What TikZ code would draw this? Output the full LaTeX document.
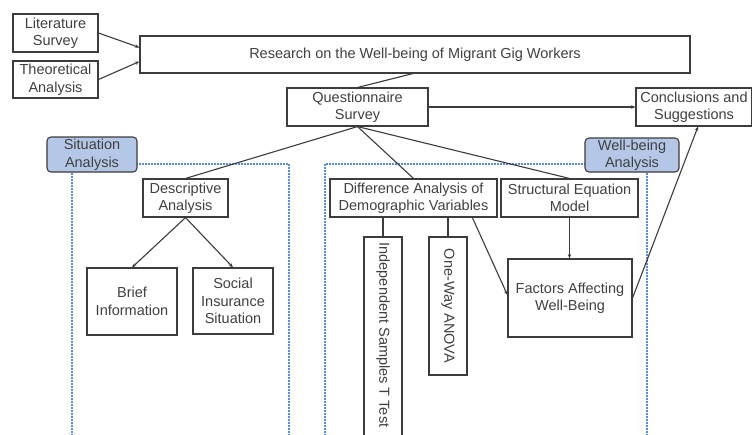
\documentclass[tikz,border=0pt]{standalone}
\usepackage{fontspec}
\setmainfont{Liberation Sans}
\usetikzlibrary{calc,arrows.meta}
\definecolor{ink}{HTML}{3C3C3C}
\definecolor{txt}{HTML}{404040}
\definecolor{tagfill}{HTML}{B4C7E7}
\definecolor{dashblue}{HTML}{5B8BE0}
\begin{document}
\begin{tikzpicture}[x=1pt,y=-1pt,
  font=\fontsize{14.5}{17.5}\selectfont,
  box/.style={draw=ink,line width=1.1pt,text=txt,align=center,inner sep=1pt},
  tag/.style={box,fill=tagfill,rounded corners=4pt},
  zone/.style={draw=dashblue,line width=1.1pt,dash pattern=on 1.8pt off 1.2pt},
  link/.style={draw=ink,line width=1.1pt},
  arr/.style={link,-{Stealth[length=4.5pt,width=3.5pt]}}]
\clip (0,0) rectangle (752,434);
\fill[white] (0,0) rectangle (752,434);

% dashed zones
\draw[zone] (72,164) rectangle (289,445);
\draw[zone] (325,164) rectangle (647,445);

% nodes
\node[box,minimum width=85pt,minimum height=38pt] (lit) at (55.5,33) {Literature\\Survey};
\node[box,minimum width=85pt,minimum height=37pt] (theo) at (55.5,79.5) {Theoretical\\Analysis};
\node[box,minimum width=550pt,minimum height=37pt] (research) at (415,54.5) {Research on the Well-being of Migrant Gig Workers};
\node[box,minimum width=141pt,minimum height=38pt] (quest) at (357.5,107) {Questionnaire\\Survey};
\node[box,minimum width=116pt,minimum height=38pt] (concl) at (694,107) {Conclusions and\\Suggestions};
\node[tag,minimum width=90pt,minimum height=35pt] (sit) at (92,154.5) {Situation\\Analysis};
\node[tag,minimum width=94pt,minimum height=34pt] (well) at (632,155) {Well-being\\Analysis};
\node[box,minimum width=85pt,minimum height=38pt] (desc) at (185.5,198) {Descriptive\\Analysis};
\node[box,minimum width=90pt,minimum height=67pt] (brief) at (132,301.5) {Brief\\Information};
\node[box,minimum width=80pt,minimum height=66pt] (social) at (233,301) {Social\\Insurance\\Situation};
\node[box,minimum width=167pt,minimum height=38pt] (diff) at (413.5,198) {Difference Analysis of\\Demographic Variables};
\node[box,minimum width=137pt,minimum height=38pt] (sem) at (569.5,198) {Structural Equation\\Model};
\node[box,rotate=-90,minimum width=210pt,minimum height=38pt] (indep) at (383,342) {Independent Samples T Test\hspace{14pt}};
\node[box,rotate=-90,minimum width=138pt,minimum height=38pt] (anova) at (448,306) {One-Way ANOVA};
\node[box,minimum width=124pt,minimum height=78pt] (factors) at (570,298) {Factors Affecting\\Well-Being};

% connectors
\draw[arr] (lit.east) -- ($(research.west)+(0,-7)$);
\draw[arr] (theo.east) -- ($(research.west)+(0,7)$);
\draw[link] (quest.north) -- ($(research.south)+(-2,0)$);
\draw[arr] (quest.east) -- (concl.west);
\draw[link] (quest.south) -- (desc.north);
\draw[link] (quest.south) -- (diff.north);
\draw[link] (quest.south) -- (sem.north);
\draw[arr] (desc.south) -- (brief.north);
\draw[arr] (desc.south) -- (social.north);
\draw[link] (diff.south -| indep.west) -- (indep.west);
\draw[link] (diff.south -| anova.west) -- (anova.west);
\draw[arr] ($(diff.south west)!0.85!(diff.south east)$) -- ($(factors.west)+(0,-3)$);
\draw[arr] (sem.south) -- (sem.south |- factors.north);
\draw[arr] (factors.east) -- ($(concl.south)+(4,0)$);
\end{tikzpicture}
\end{document}
